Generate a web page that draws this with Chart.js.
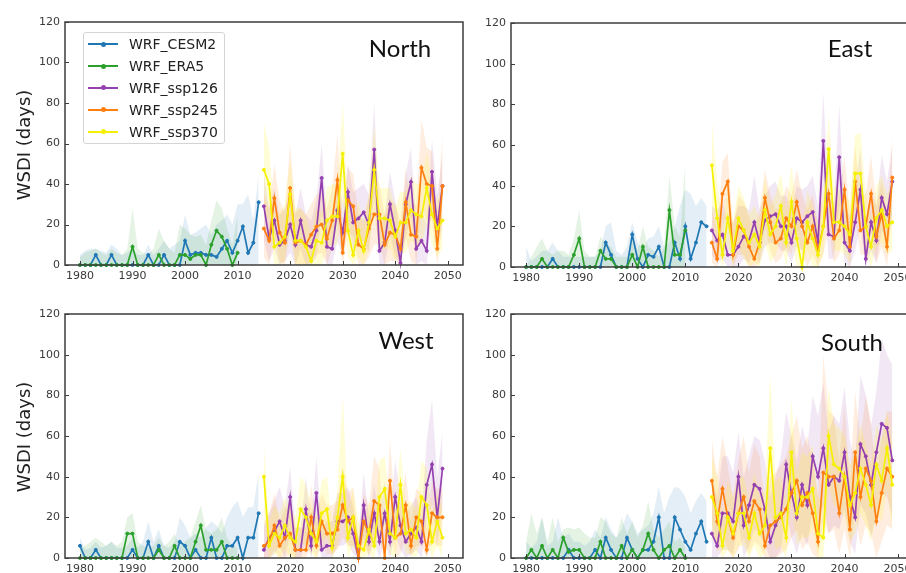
<!DOCTYPE html>
<html>
<head>
<meta charset="utf-8">
<script src="https://cdn.jsdelivr.net/npm/chart.js@4.4.0/dist/chart.umd.min.js"></script>
<style>
  body { margin: 0; width: 906px; height: 573px; overflow: hidden; background: #fff; position: relative; font-family: "DejaVu Sans", sans-serif; }
  canvas { position: absolute; }
  .region { position: absolute; font-family: Lato, "Liberation Sans", sans-serif; font-size: 24px; line-height: 24px; color: #111; transform: translateX(-50%); white-space: nowrap; }
  .ylab { position: absolute; font-size: 18px; color: #222; transform: translate(-50%, -50%) rotate(-90deg); white-space: nowrap; }
  #legend { position: absolute; left: 83px; top: 32px; width: 142px; height: 112px; border: 1px solid #d4d4d4; border-radius: 3px; background: rgba(255,255,255,0.85); box-sizing: border-box; padding-top: 0.5px; }
  .row { display: flex; align-items: center; height: 21.8px; }
  .swatch { position: relative; width: 30px; height: 2px; margin-left: 4px; }
  .swatch span { position: absolute; left: 13px; top: -1.5px; width: 5px; height: 5px; border-radius: 50%; }
  .lbl { margin-left: 11px; font-size: 14px; color: #222; }
</style>
</head>
<body>
<canvas id="north" width="1" height="1"></canvas>
<canvas id="east" width="1" height="1"></canvas>
<canvas id="west" width="1" height="1"></canvas>
<canvas id="south" width="1" height="1"></canvas>

<div class="region" style="left:400px; top:36px;">North</div>
<div class="region" style="left:850px; top:36px;">East</div>
<div class="region" style="left:406px; top:328px;">West</div>
<div class="region" style="left:852px; top:330px;">South</div>
<div class="ylab" style="left:23px; top:145px;">WSDI (days)</div>
<div class="ylab" style="left:23px; top:437px;">WSDI (days)</div>
<div id="legend"></div>

<script>
// years
const histYears = [1980,1981,1982,1983,1984,1985,1986,1987,1988,1989,1990,1991,1992,1993,1994,1995,1996,1997,1998,1999,2000,2001,2002,2003,2004,2005,2006,2007,2008,2009,2010,2011,2012,2013,2014];
const era5Years = [1980,1981,1982,1983,1984,1985,1986,1987,1988,1989,1990,1991,1992,1993,1994,1995,1996,1997,1998,1999,2000,2001,2002,2003,2004,2005,2006,2007,2008,2009,2010];
const futureYears = [2015,2016,2017,2018,2019,2020,2021,2022,2023,2024,2025,2026,2027,2028,2029,2030,2031,2032,2033,2034,2035,2036,2037,2038,2039,2040,2041,2042,2043,2044,2045,2046,2047,2048,2049];
const xTicks = [1980, 1990, 2000, 2010, 2020, 2030, 2040, 2050];
const seriesNames = ['WRF_CESM2', 'WRF_ERA5', 'WRF_ssp126', 'WRF_ssp245', 'WRF_ssp370'];

// North
const northCESM2 = [0,0,0,5,0,0,5,0,0,0, 0,0,0,5,0,0,5,0,0,0, 12,5,6,6,5,5,4,8,12,6, 12,19,6,11,31];
const northCESM2Hi = [5,7,8,8,7,6,10,8,5,6, 8,5,5,10,5,8,12,8,10,12, 25,15,16,18,20,15,20,22,25,20, 30,30,35,22,45];
const northERA5 = [0,0,0,0,0,0,0,0,0,0, 9,0,0,0,0,5,0,0,0,5, 5,3,5,5,0,10,17,14,8,0, 6];
const northERA5Hi = [4,6,7,8,6,5,8,6,5,8, 28,8,6,5,8,18,12,8,6,20, 18,15,14,15,10,22,32,28,18,10, 25];
const north126 = [29,13,22,10,12,20,10,22,10,9, 17,43,9,8,27,16,36,21,23,26, 20,57,7,11,30,17,1,30,41,8, 12,7,46,19,39];
const north126Hi = [45,28,38,25,28,36,25,38,25,22, 32,60,22,22,42,30,50,36,38,40, 35,80,20,25,46,32,15,45,58,22, 28,20,62,35,55];
const north126Lo = [12,2,8,0,2,6,0,8,0,0, 4,25,0,0,12,4,20,8,10,12, 6,35,0,0,15,4,0,14,24,0, 2,0,28,6,22];
const north245 = [18,12,33,16,11,38,11,12,10,15, 19,20,13,22,42,6,32,29,10,8, 18,25,25,10,16,15,8,31,15,14, 48,40,39,8,39];
const north245Hi = [35,28,50,32,26,60,26,28,25,30, 35,36,28,38,65,20,48,45,25,22, 34,42,40,25,32,30,22,48,30,30, 72,58,56,22,66];
const north245Lo = [4,0,16,2,0,18,0,0,0,2, 5,6,0,8,22,0,16,14,0,0, 4,10,10,0,2,2,0,14,2,0, 28,22,22,0,20];
const north370 = [47,40,9,11,14,35,12,12,9,2, 12,11,22,24,24,55,17,5,17,7, 21,47,23,23,22,14,21,21,27,25, 24,38,25,18,22];
const north370Hi = [70,58,25,26,30,52,28,28,24,15, 28,26,38,40,40,80,32,18,32,20, 36,70,38,38,38,28,36,36,44,40, 40,56,40,32,38];
const north370Lo = [25,22,0,0,2,18,0,0,0,0, 0,0,8,10,10,32,4,0,4,0, 8,25,8,8,8,2,6,6,12,10, 10,20,10,4,8];

// East
const eastCESM2 = [0,0,0,0,0,4,0,0,0,0, 0,0,0,0,0,12,6,0,0,0, 16,4,0,6,5,10,0,0,12,4, 20,4,12,22,20];
const eastCESM2Hi = [10,3,5,8,8,12,8,5,5,5, 5,5,5,5,8,20,22,8,6,10, 22,12,8,14,15,20,10,12,20,30, 38,36,30,34,30];
const eastERA5 = [0,0,0,4,0,0,0,0,0,6, 14,0,0,0,8,4,4,0,0,0, 6,0,10,0,0,0,0,28,6,6, 18];
const eastERA5Hi = [0,5,10,14,8,6,8,8,6,14, 28,8,5,5,15,12,10,5,5,5, 15,8,20,10,8,5,10,45,20,15, 52];
const east126 = [18,13,16,6,6,10,15,13,22,12, 23,25,26,20,20,12,24,22,25,27, 12,62,16,15,54,12,8,22,38,4, 22,13,34,26,42];
const east126Hi = [30,28,32,22,22,30,30,28,45,28, 35,40,42,35,35,28,40,38,40,45, 30,86,35,32,80,30,25,40,58,20, 38,30,55,42,60];
const east126Lo = [6,2,4,0,0,0,4,2,8,2, 10,12,12,8,8,2,10,8,12,14, 2,40,4,4,30,2,0,8,20,0, 8,2,18,12,26];
const east245 = [12,4,36,42,6,20,18,10,4,12, 34,22,12,14,24,20,32,20,12,20, 8,20,36,14,18,38,10,42,18,20, 36,15,26,10,44];
const east245Hi = [28,18,52,56,20,35,32,25,18,28, 48,36,28,30,40,35,48,36,28,36, 22,36,56,30,34,55,26,60,34,36, 55,30,42,26,64];
const east245Lo = [2,0,20,26,0,6,6,0,0,2, 20,8,2,4,10,6,18,6,0,6, 0,6,18,2,6,20,0,24,6,6, 18,2,10,0,26];
const east370 = [50,24,6,24,8,24,18,12,16,10, 28,16,20,30,12,32,14,0,22,14, 6,20,58,22,22,20,16,46,46,20, 10,24,28,20,22];
const east370Hi = [72,42,20,40,22,40,34,26,30,24, 44,30,36,46,28,50,30,14,38,30, 20,36,74,40,38,36,32,65,66,36, 24,40,45,36,40];
const east370Lo = [28,8,0,10,0,10,4,0,2,0, 12,2,6,14,0,16,0,0,8,0, 0,6,40,8,8,6,2,28,28,6, 0,10,12,6,8];

// West
const westCESM2 = [6,0,0,4,0,0,0,0,0,0, 4,0,0,8,0,6,0,0,0,8, 6,0,4,0,0,10,0,0,6,6, 10,0,10,10,22];
const westCESM2Hi = [10,4,5,8,5,6,8,5,5,6, 10,5,8,18,8,14,6,5,8,20, 16,10,12,10,15,18,16,12,20,25, 28,20,25,25,42];
const westERA5 = [0,0,0,0,0,0,0,0,0,12, 12,0,0,0,0,4,0,0,6,0, 0,0,8,16,4,4,4,8,0,0, 0];
const westERA5Hi = [5,6,8,10,8,6,8,6,8,20, 22,8,6,5,6,10,6,8,12,6, 8,10,18,26,14,12,14,20,10,6, 5];
const west126 = [4,10,13,18,10,30,4,4,24,6, 32,4,6,6,18,18,20,12,0,26, 8,22,8,22,8,30,16,8,12,15, 8,36,46,20,44];
const west126Hi = [15,22,28,35,25,45,15,15,40,18, 50,15,18,18,32,32,35,25,10,42, 20,36,20,38,20,48,30,20,26,30, 20,58,78,40,63];
const west126Lo = [0,0,2,6,0,12,0,0,8,0, 14,0,0,0,6,6,8,2,0,10, 0,8,0,8,0,12,4,0,2,4, 0,18,26,6,26];
const west245 = [6,8,16,6,10,12,4,4,4,20, 6,18,12,12,14,26,18,20,0,18, 12,28,26,0,38,10,12,26,6,20, 18,4,22,20,20];
const west245Hi = [18,22,32,18,24,26,15,15,15,36, 18,32,26,26,28,45,32,35,10,32, 26,50,44,12,58,24,26,42,18,34, 32,15,38,34,34];
const west245Lo = [0,0,4,0,0,2,0,0,0,6, 0,6,2,2,4,10,6,6,0,6, 2,10,10,0,18,0,2,10,0,6, 6,0,8,6,6];
const west370 = [40,6,12,10,16,10,8,24,20,12, 8,22,24,5,20,40,10,20,6,4, 14,6,30,34,12,10,36,12,14,10, 30,26,8,18,10];
const west370Hi = [56,18,26,22,30,24,20,40,36,26, 20,38,40,16,34,80,24,34,18,14, 28,18,48,50,26,24,54,26,28,24, 48,44,22,32,24];
const west370Lo = [22,0,2,0,4,0,0,8,6,2, 0,8,10,0,6,22,0,6,0,0, 2,0,12,16,2,0,18,2,2,0, 12,10,0,6,0];

// South
const southCESM2 = [0,0,0,0,0,0,0,0,4,0, 0,0,0,4,0,10,4,0,0,10, 4,0,4,4,8,20,0,0,20,14, 8,4,12,18,8];
const southCESM2Hi = [8,5,8,20,6,8,20,10,12,8, 8,6,8,14,10,20,14,10,14,22, 18,12,14,16,22,35,22,30,35,34, 30,22,28,32,28];
const southERA5 = [0,4,0,6,0,4,0,10,3,4, 4,0,0,0,8,0,0,0,6,0, 4,0,4,12,4,0,4,6,0,4, 0];
const southERA5Hi = [8,22,12,20,8,20,8,14,15,14, 15,12,10,10,20,18,12,10,20,12, 18,10,16,28,14,10,14,18,8,10, 5];
const south126 = [12,6,22,22,18,40,16,26,36,34, 24,8,16,22,46,32,20,36,26,50, 40,54,36,40,38,52,30,20,56,50, 36,52,66,64,48];
const south126Hi = [40,30,50,50,42,62,40,50,60,58, 48,30,40,50,72,60,48,65,55,80, 70,86,62,70,66,84,58,48,90,80, 65,82,108,100,95];
const south126Lo = [0,0,4,4,2,18,0,6,14,12, 6,0,0,4,22,10,2,12,6,24, 16,26,12,16,14,24,8,2,26,22, 10,22,32,30,20];
const south245 = [38,18,34,20,10,22,30,18,28,24, 6,16,18,20,24,32,38,26,32,22, 8,42,40,40,22,40,14,52,30,44, 38,18,32,44,40];
const south245Hi = [58,40,60,45,30,48,60,42,56,50, 26,40,42,46,50,60,70,54,60,48, 30,100,72,70,48,76,36,82,58,80, 66,40,60,72,72];
const south245Lo = [18,2,12,4,0,4,10,2,8,6, 0,0,0,2,4,10,14,4,8,2, 0,18,12,14,2,14,0,22,6,16, 12,0,8,16,14];
const south370 = [30,22,6,20,12,22,22,10,22,12, 16,54,20,22,10,52,22,30,30,34, 12,10,60,46,44,40,26,32,44,36, 26,46,38,54,36];
const south370Hi = [50,40,22,38,30,40,40,28,42,30, 34,90,38,40,28,78,42,52,50,56, 30,28,84,66,64,60,46,52,66,56, 46,66,58,72,56];
const south370Lo = [10,6,0,4,0,6,6,0,6,0, 2,24,4,6,0,28,6,10,10,14, 0,0,36,26,24,20,8,12,22,16, 8,22,18,34,14];

const colors = ['#1f77b4', '#2ca02c', '#9440b0', '#ff7f0e', '#f5f000'];
const shades = ['rgba(31,119,180,0.12)', 'rgba(44,160,44,0.12)', 'rgba(148,64,176,0.12)', 'rgba(255,127,14,0.13)', 'rgba(255,245,0,0.16)'];

function pts(xs, ys) {
    return ys.map((v, i) => ({ x: xs[i], y: v }));
}

function lineSet(xs, ys, k, order) {
    return {
        data: pts(xs, ys), borderColor: colors[k], backgroundColor: colors[k],
        borderWidth: 1.7, pointRadius: 1.5, pointBorderWidth: 1, pointHoverRadius: 0, fill: false, order: order, clip: false
    };
}

// frame + inward ticks, like the matplotlib panels
const framePlugin = {
    id: 'frame',
    afterDraw(chart) {
        const { ctx, chartArea: a, scales } = chart;
        ctx.save();
        ctx.strokeStyle = '#3c3c3c';
        ctx.lineWidth = 1.5;
        ctx.strokeRect(a.left, a.top, a.right - a.left, a.bottom - a.top);
        ctx.lineWidth = 1;
        ctx.beginPath();
        scales.x.ticks.forEach(t => {
            const px = Math.round(scales.x.getPixelForValue(t.value)) + 0.5;
            ctx.moveTo(px, a.bottom); ctx.lineTo(px, a.bottom - 4);
        });
        scales.y.ticks.forEach(t => {
            const py = Math.round(scales.y.getPixelForValue(t.value)) + 0.5;
            ctx.moveTo(a.left, py); ctx.lineTo(a.left + 4, py);
        });
        ctx.stroke();
        ctx.restore();
    }
};

function makePanel(id, box, s) {
    const canvas = document.getElementById(id);
    const padTop = 20, padRight = 6, padBottom = 2, yW = 65, xH = 25;
    canvas.width = box.right - box.left + yW + padRight;
    canvas.height = box.bottom - box.top + padTop + xH + padBottom;
    canvas.style.left = (box.left - yW) + 'px';
    canvas.style.top = (box.top - padTop) + 'px';

    const datasets = [
        // shaded spread bands (drawn underneath)
        { data: pts(histYears, s.cesmHi), borderWidth: 0, pointRadius: 0, backgroundColor: shades[0], fill: 'origin', order: 20 },
        { data: pts(era5Years, s.eraHi), borderWidth: 0, pointRadius: 0, backgroundColor: shades[1], fill: 'origin', order: 19 },
        { data: pts(futureYears, s.p126Lo), borderWidth: 0, pointRadius: 0, fill: false, order: 18 },
        { data: pts(futureYears, s.p126Hi), borderWidth: 0, pointRadius: 0, backgroundColor: shades[2], fill: '-1', order: 18 },
        { data: pts(futureYears, s.p245Lo), borderWidth: 0, pointRadius: 0, fill: false, order: 17 },
        { data: pts(futureYears, s.p245Hi), borderWidth: 0, pointRadius: 0, backgroundColor: shades[3], fill: '-1', order: 17 },
        { data: pts(futureYears, s.p370Lo), borderWidth: 0, pointRadius: 0, fill: false, order: 16 },
        { data: pts(futureYears, s.p370Hi), borderWidth: 0, pointRadius: 0, backgroundColor: shades[4], fill: '-1', order: 16 },
        // mean lines
        lineSet(histYears, s.cesm, 0, 5),
        lineSet(era5Years, s.era, 1, 4),
        lineSet(futureYears, s.p126, 2, 3),
        lineSet(futureYears, s.p245, 3, 2),
        lineSet(futureYears, s.p370, 4, 1)
    ];

    new Chart(canvas.getContext('2d'), {
        type: 'line',
        data: { datasets: datasets },
        options: {
            responsive: false,
            animation: false,
            events: [],
            layout: { padding: { top: padTop, right: padRight, bottom: padBottom, left: 0 } },
            plugins: { legend: { display: false }, tooltip: { enabled: false } },
            scales: {
                x: {
                    type: 'linear', min: 1977.15, max: 2052.9,
                    afterBuildTicks: (sc) => { sc.ticks = xTicks.map(v => ({ value: v })); },
                    afterFit: (sc) => { sc.height = xH; },
                    grid: { display: false, drawTicks: false },
                    border: { display: false },
                    ticks: { padding: 5, maxRotation: 0, autoSkip: false, color: '#3a3a3a', font: { family: 'DejaVu Sans', size: 11 }, callback: v => String(v) }
                },
                y: {
                    min: 0, max: 120,
                    afterFit: (sc) => { sc.width = yW; },
                    grid: { display: false, drawTicks: false },
                    border: { display: false },
                    ticks: { stepSize: 20, padding: 5, color: '#3a3a3a', font: { family: 'DejaVu Sans', size: 11 } }
                }
            }
        },
        plugins: [framePlugin]
    });
}

makePanel('north', { left: 65, top: 22, right: 463, bottom: 265 }, {
    cesm: northCESM2, cesmHi: northCESM2Hi, era: northERA5, eraHi: northERA5Hi,
    p126: north126, p126Hi: north126Hi, p126Lo: north126Lo,
    p245: north245, p245Hi: north245Hi, p245Lo: north245Lo,
    p370: north370, p370Hi: north370Hi, p370Lo: north370Lo
});
makePanel('east', { left: 511, top: 23, right: 913, bottom: 267 }, {
    cesm: eastCESM2, cesmHi: eastCESM2Hi, era: eastERA5, eraHi: eastERA5Hi,
    p126: east126, p126Hi: east126Hi, p126Lo: east126Lo,
    p245: east245, p245Hi: east245Hi, p245Lo: east245Lo,
    p370: east370, p370Hi: east370Hi, p370Lo: east370Lo
});
makePanel('west', { left: 65, top: 314, right: 463, bottom: 558 }, {
    cesm: westCESM2, cesmHi: westCESM2Hi, era: westERA5, eraHi: westERA5Hi,
    p126: west126, p126Hi: west126Hi, p126Lo: west126Lo,
    p245: west245, p245Hi: west245Hi, p245Lo: west245Lo,
    p370: west370, p370Hi: west370Hi, p370Lo: west370Lo
});
makePanel('south', { left: 511, top: 314, right: 913, bottom: 558 }, {
    cesm: southCESM2, cesmHi: southCESM2Hi, era: southERA5, eraHi: southERA5Hi,
    p126: south126, p126Hi: south126Hi, p126Lo: south126Lo,
    p245: south245, p245Hi: south245Hi, p245Lo: south245Lo,
    p370: south370, p370Hi: south370Hi, p370Lo: south370Lo
});

// legend (top-left panel)
const legend = document.getElementById('legend');
seriesNames.forEach((name, k) => {
    const row = document.createElement('div');
    row.className = 'row';
    row.innerHTML = '<div class="swatch" style="background:' + colors[k] + '"><span style="background:' + colors[k] + '"></span></div>' +
        '<div class="lbl">' + name + '</div>';
    legend.appendChild(row);
});
</script>
</body>
</html>
